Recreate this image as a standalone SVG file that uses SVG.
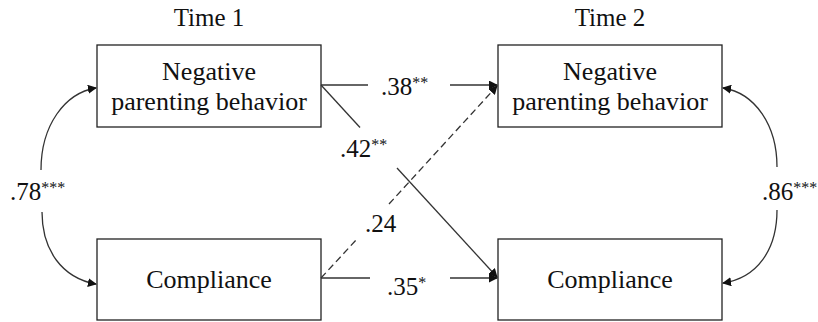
<svg xmlns="http://www.w3.org/2000/svg" width="818" height="322" viewBox="0 0 818 322">
<defs>
<style>
text{font-family:"Liberation Serif","Times New Roman",serif;fill:#111}
.node rect{fill:#fff;stroke:#222;stroke-width:1.3}
.nt{font-size:26px;text-anchor:middle}
.hd{font-size:25px;text-anchor:middle}
.lb{font-size:25px}
.sup{font-size:16px}
.c{fill:none;stroke:#333;stroke-width:1.3}
.d{stroke-dasharray:7 4}
</style>
<marker id="ah" viewBox="0 0 10 10" refX="9" refY="5" markerWidth="9" markerHeight="9" markerUnits="userSpaceOnUse" orient="auto">
<path d="M0,0 L10,5 L0,10 z" fill="#111"/>
</marker>
</defs>
<rect width="818" height="322" fill="#fff"/>
<text class="hd" x="209" y="26">Time 1</text>
<text class="hd" x="610" y="26">Time 2</text>
<g id="node-npb1" class="node">
<rect x="97" y="45" width="224" height="82"/>
<text class="nt" x="209" y="80">Negative</text>
<text class="nt" x="209" y="110">parenting behavior</text>
</g>
<g id="node-comp1" class="node">
<rect x="97" y="239" width="224" height="81"/>
<text class="nt" x="209" y="288">Compliance</text>
</g>
<g id="node-npb2" class="node">
<rect x="498" y="45" width="224" height="82"/>
<text class="nt" x="610" y="80">Negative</text>
<text class="nt" x="610" y="110">parenting behavior</text>
</g>
<g id="node-comp2" class="node">
<rect x="498" y="239" width="224" height="81"/>
<text class="nt" x="610" y="288">Compliance</text>
</g>
<g id="connectors">
<path class="c" d="M321,85 H368"/>
<path class="c" d="M450,85 H497" marker-end="url(#ah)"/>
<path class="c" d="M321,278 H370"/>
<path class="c" d="M450,278 H497" marker-end="url(#ah)"/>
<path class="c" d="M321,85 L360,127.5"/>
<path class="c" d="M397,168 L497,277" marker-end="url(#ah)"/>
<path class="c d" d="M321,278 L357,239"/>
<path class="c d" d="M389,204 L497,86" marker-end="url(#ah)"/>
<path class="c" d="M41,170 C41,125 65,93 96,88" marker-end="url(#ah)"/>
<path class="c" d="M42,212 C42,250 62,278 96,284" marker-end="url(#ah)"/>
<path class="c" d="M777,167 C777,125 755,93 723,88" marker-end="url(#ah)"/>
<path class="c" d="M777,210 C777,250 757,278 723,283" marker-end="url(#ah)"/>
</g>
<g id="labels">
<text class="lb" x="381" y="95">.38<tspan class="sup" dy="-7">**</tspan></text>
<text class="lb" x="340" y="157">.42<tspan class="sup" dy="-7">**</tspan></text>
<text class="lb" x="365" y="232">.24</text>
<text class="lb" x="387" y="295">.35<tspan class="sup" dy="-7">*</tspan></text>
<text class="lb" x="10" y="200">.78<tspan class="sup" dy="-7">***</tspan></text>
<text class="lb" x="762" y="200">.86<tspan class="sup" dy="-7">***</tspan></text>
</g>
</svg>
